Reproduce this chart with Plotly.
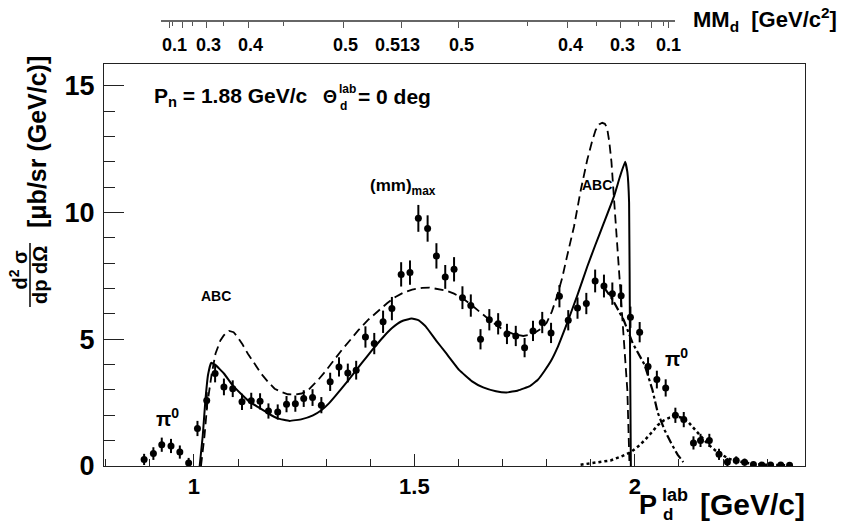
import plotly.graph_objects as go

# ---------------- data ----------------
p_data = [0.887, 0.908, 0.927, 0.948, 0.968, 0.988, 1.008, 1.029, 1.048, 1.068, 1.088, 1.109,
          1.130, 1.150, 1.169, 1.190, 1.210, 1.230, 1.249, 1.269, 1.289, 1.309, 1.329, 1.349,
          1.368, 1.389, 1.409, 1.429, 1.449, 1.470, 1.490, 1.509, 1.530, 1.550, 1.570, 1.590,
          1.609, 1.628, 1.650, 1.670, 1.690, 1.710, 1.730, 1.750, 1.769, 1.790, 1.810, 1.829,
          1.849, 1.870, 1.890, 1.910, 1.930, 1.949, 1.969, 1.990, 2.011, 2.030, 2.050, 2.070,
          2.092, 2.111, 2.133, 2.149, 2.169, 2.191, 2.210, 2.230, 2.249, 2.269, 2.288, 2.308,
          2.331, 2.351]
xs_data = [0.26, 0.49, 0.84, 0.79, 0.55, 0.12, 1.48, 2.58, 3.65, 3.12, 3.05, 2.53,
           2.57, 2.55, 2.17, 2.13, 2.44, 2.46, 2.66, 2.70, 2.40, 3.32, 3.91, 3.67,
           3.78, 5.09, 4.83, 5.69, 6.21, 7.56, 7.63, 9.77, 9.37, 8.29, 7.46, 7.76,
           6.64, 6.33, 5.00, 5.77, 5.61, 5.21, 5.13, 4.67, 5.33, 5.66, 5.25, 6.70,
           5.75, 6.23, 6.41, 7.30, 7.10, 6.80, 6.72, 5.87, 5.28, 3.93, 3.41, 3.08,
           2.00, 1.83, 0.91, 1.01, 1.01, 0.46, 0.16, 0.22, 0.15, 0.06, 0.04, 0.04,
           0.04, 0.03]
xs_err = [0.22, 0.25, 0.28, 0.28, 0.26, 0.20, 0.30, 0.33, 0.35, 0.33, 0.33, 0.32,
          0.32, 0.32, 0.30, 0.30, 0.32, 0.32, 0.33, 0.33, 0.32, 0.36, 0.38, 0.37,
          0.37, 0.42, 0.42, 0.44, 0.46, 0.48, 0.48, 0.53, 0.52, 0.50, 0.47, 0.48,
          0.45, 0.44, 0.40, 0.42, 0.42, 0.40, 0.40, 0.38, 0.40, 0.42, 0.40, 0.44,
          0.40, 0.42, 0.42, 0.45, 0.45, 0.44, 0.44, 0.42, 0.40, 0.36, 0.35, 0.34,
          0.30, 0.30, 0.26, 0.26, 0.26, 0.22, 0.16, 0.16, 0.14, 0.10, 0.08, 0.08,
          0.08, 0.06]

solid_x = [1.013, 1.020, 1.026, 1.032, 1.039, 1.048, 1.068, 1.087, 1.106, 1.125, 1.145, 1.168,
           1.190, 1.217, 1.245, 1.270, 1.289, 1.305, 1.320, 1.350, 1.380, 1.404, 1.430, 1.450,
           1.470, 1.494, 1.510, 1.526, 1.549, 1.572, 1.602, 1.630, 1.656, 1.685, 1.709, 1.735,
           1.762, 1.780, 1.795, 1.810, 1.824, 1.846, 1.870, 1.892, 1.910, 1.930, 1.953, 1.966,
           1.978, 1.983, 1.987, 1.989, 1.991]
solid_y = [0.0, 1.2, 2.6, 3.6, 4.07, 4.0, 3.65, 3.2, 2.86, 2.55, 2.33, 2.08,
           1.88, 1.78, 1.85, 2.00, 2.20, 2.45, 2.75, 3.38, 4.05, 4.57, 5.10, 5.45,
           5.70, 5.82, 5.75, 5.50, 4.96, 4.45, 3.78, 3.35, 3.10, 2.95, 2.90, 2.98,
           3.15, 3.40, 3.75, 4.15, 4.65, 5.62, 6.75, 7.86, 8.70, 9.60, 10.65, 11.40,
           12.0, 11.6, 10.4, 5.0, 0.0]

dash_x = [1.016, 1.024, 1.030, 1.040, 1.049, 1.060, 1.068, 1.080, 1.090, 1.099, 1.110, 1.122,
          1.137, 1.152, 1.168, 1.183, 1.198, 1.213, 1.230, 1.244, 1.257, 1.267, 1.282, 1.297,
          1.315, 1.335, 1.355, 1.373, 1.396, 1.419, 1.438, 1.457, 1.475, 1.495, 1.518, 1.534,
          1.550, 1.572, 1.590, 1.610, 1.633, 1.656, 1.678, 1.701, 1.725, 1.747, 1.762, 1.775,
          1.790, 1.800, 1.812, 1.823, 1.835, 1.846, 1.862, 1.877, 1.892, 1.903, 1.911, 1.919,
          1.926, 1.932, 1.937, 1.942, 1.947, 1.953, 1.961, 1.968, 1.976, 1.983, 1.988]
dash_y = [0.0, 1.2, 2.4, 3.6, 4.44, 4.95, 5.16, 5.33, 5.28, 5.09, 4.80, 4.44,
          4.05, 3.65, 3.32, 3.05, 2.92, 2.83, 2.82, 2.86, 2.96, 3.12, 3.40, 3.71,
          4.12, 4.57, 4.98, 5.36, 5.78, 6.15, 6.42, 6.67, 6.84, 6.96, 7.03, 7.04,
          7.00, 6.92, 6.80, 6.61, 6.30, 5.97, 5.66, 5.38, 5.20, 5.13, 5.18, 5.28,
          5.45, 5.65, 6.10, 6.67, 7.40, 8.25, 9.44, 10.85, 12.07, 12.80, 13.25, 13.48,
          13.54, 13.50, 13.35, 12.80, 12.0, 10.49, 8.52, 6.67, 4.96, 3.0, 0.0]

dashdot_x = [1.930, 1.950, 1.975, 1.995, 2.022, 2.040, 2.052, 2.068, 2.083, 2.097, 2.110]
dashdot_y = [7.05, 6.55, 5.75, 4.85, 4.00, 3.00, 2.10, 1.40, 0.88, 0.45, 0.15]

dot_x = [1.877, 1.910, 1.945, 1.970, 1.991, 2.008, 2.022, 2.037, 2.052, 2.066, 2.079, 2.094,
         2.108, 2.121, 2.136, 2.151, 2.166, 2.182, 2.197, 2.212, 2.231, 2.251, 2.270, 2.289,
         2.320, 2.357]
dot_y = [0.05, 0.12, 0.22, 0.38, 0.55, 0.78, 1.01, 1.30, 1.61, 1.80, 1.91, 1.96,
         1.90, 1.74, 1.45, 1.14, 0.86, 0.62, 0.44, 0.29, 0.19, 0.12, 0.08, 0.05,
         0.03, 0.02]

# top (missing-mass) axis: tick positions expressed in P_d units
mm_major = [0.9458, 0.9751, 1.0307, 1.1263, 1.3453, 1.4762, 1.6069, 1.8570, 1.9787, 2.0499, 2.0883]
mm_minor = [0.9540, 0.9998, 1.0707, 1.2064, 1.7654, 1.9240, 2.0188, 2.0760]
mm_label_pos = [0.9579, 1.0357, 1.1320, 1.3487, 1.4689, 1.6142, 1.8636, 1.9838, 2.0883]
mm_labels = ["0.1", "0.3", "0.4", "0.5", "0.513", "0.5", "0.4", "0.3", "0.1"]

x_ticks = [1.0, 1.5, 2.0]
x_ticktext = ["1", "1.5", "2"]
y_ticks = [0, 5, 10, 15]

# ---------------- figure ----------------
W, H = 849, 526
ML, MR, MT, MB = 104, 44, 21, 60
PW, PH = W - ML - MR, H - MT - MB


def px(xp):
    return (xp - ML) / PW


def py(yp):
    return (H - MB - yp) / PH


FB = "Liberation Sans, Arial, Helvetica, sans-serif"
BOLD = "bold"

fig = go.Figure()

fig.add_trace(go.Scatter(x=dot_x, y=dot_y, mode="lines",
                         line=dict(color="black", width=2.5, dash="dot"), hoverinfo="skip"))
fig.add_trace(go.Scatter(x=dashdot_x, y=dashdot_y, mode="lines",
                         line=dict(color="black", width=2.2, dash="dashdot"), hoverinfo="skip"))
fig.add_trace(go.Scatter(x=dash_x, y=dash_y, mode="lines",
                         line=dict(color="black", width=1.8, dash="9px,5px"), hoverinfo="skip"))
fig.add_trace(go.Scatter(x=solid_x, y=solid_y, mode="lines", line_shape="spline",
                         line=dict(color="black", width=2, smoothing=0.3), hoverinfo="skip"))
fig.add_trace(go.Scatter(x=p_data, y=xs_data, mode="markers",
                         marker=dict(color="black", size=7, symbol="circle"),
                         error_y=dict(type="data", array=xs_err, visible=True,
                                      color="black", thickness=2, width=0)))

# invisible trace that makes the top axis appear
fig.add_trace(go.Scatter(x=[mm_major[0]], y=[0], xaxis="x2", yaxis="y",
                         mode="markers", marker=dict(opacity=0), hoverinfo="skip"))

ytop = py(64)

fig.update_layout(
    width=W, height=H, margin=dict(l=ML, r=MR, t=MT, b=MB),
    paper_bgcolor="white", plot_bgcolor="rgba(0,0,0,0)", showlegend=False,
    font=dict(family=FB, color="black"),
    xaxis=dict(range=[0.796, 2.386], domain=[0, 1], tickvals=x_ticks, ticktext=x_ticktext,
               ticks="inside", ticklen=12, tickwidth=1, tickcolor="#222",
               minor=dict(dtick=0.1, tick0=0, ticks="inside", ticklen=7, tickcolor="#222"),
               showline=True, linecolor="#222", linewidth=1.3, mirror=True,
               showgrid=False, zeroline=False,
               tickfont=dict(family=FB, size=22, color="black", weight=BOLD)),
    yaxis=dict(range=[0, 15.86], domain=[0, ytop], tickvals=y_ticks,
               ticks="inside", ticklen=20, tickwidth=1, tickcolor="#222",
               minor=dict(dtick=1, tick0=0, ticks="inside", ticklen=11, tickcolor="#222"),
               showline=True, linecolor="#222", linewidth=1.3, mirror=True,
               showgrid=False, zeroline=False,
               tickfont=dict(family=FB, size=27, color="black", weight=BOLD),
               ticklabelstandoff=3),
    xaxis2=dict(range=[0.9261, 2.1021], domain=[px(160.7), px(674.6)],
                anchor="free", position=1.0, side="bottom",
                tickvals=mm_major, showticklabels=False,
                ticks="outside", ticklen=6, tickwidth=1, tickcolor="#555",
                minor=dict(tickvals=mm_minor, ticks="outside", ticklen=4, tickcolor="#555"),
                showline=True, linecolor="#666", linewidth=1.5,
                showgrid=False, zeroline=False),
)

ann = []
# top axis labels
for pos, lab in zip(mm_label_pos, mm_labels):
    ann.append(dict(x=pos, y=py(45), xref="x2", yref="paper", text=lab, showarrow=False,
                    xanchor="center", yanchor="middle", font=dict(size=18)))
ann.append(dict(x=px(691), y=py(19), xref="paper", yref="paper",
                text="MM<sub>d</sub>  [GeV/c<sup>2</sup>]", showarrow=False,
                xanchor="left", yanchor="middle", font=dict(size=22)))

# plot text
ann.append(dict(x=px(152), y=py(97), xref="paper", yref="paper",
                text="P<sub>n</sub> = 1.88 GeV/c", showarrow=False,
                xanchor="left", yanchor="middle", font=dict(size=21)))
ann.append(dict(x=px(321), y=py(97), xref="paper", yref="paper",
                text="\u0398", showarrow=False,
                xanchor="left", yanchor="middle", font=dict(size=18)))
ann.append(dict(x=px(337), y=py(89), xref="paper", yref="paper",
                text="lab", showarrow=False,
                xanchor="left", yanchor="middle", font=dict(size=12)))
ann.append(dict(x=px(338), y=py(106), xref="paper", yref="paper",
                text="d", showarrow=False,
                xanchor="left", yanchor="middle", font=dict(size=12)))
ann.append(dict(x=px(356), y=py(97), xref="paper", yref="paper",
                text="= 0 deg", showarrow=False,
                xanchor="left", yanchor="middle", font=dict(size=21)))

ann.append(dict(x=0.94, y=1.93, text="\u03c0<sup>0</sup>", showarrow=False,
                font=dict(size=20)))
ann.append(dict(x=2.095, y=4.29, text="\u03c0<sup>0</sup>", showarrow=False,
                font=dict(size=20)))
ann.append(dict(x=1.050, y=6.69, text="ABC", showarrow=False,
                font=dict(size=14)))
ann.append(dict(x=1.914, y=11.1, text="ABC", showarrow=False,
                font=dict(size=14)))
ann.append(dict(x=1.475, y=11.0, text="(mm)<sub>max</sub>", showarrow=False,
                font=dict(size=17)))

# x-axis title pieces
ann.append(dict(x=px(659), y=py(505), xref="paper", yref="paper", text="P", showarrow=False,
                xanchor="right", yanchor="middle", font=dict(size=27)))
ann.append(dict(x=px(660), y=py(495), xref="paper", yref="paper", text="lab", showarrow=False,
                xanchor="left", yanchor="middle", font=dict(size=18)))
ann.append(dict(x=px(661), y=py(514), xref="paper", yref="paper", text="d", showarrow=False,
                xanchor="left", yanchor="middle", font=dict(size=17)))
ann.append(dict(x=px(807), y=py(505), xref="paper", yref="paper", text="[GeV/c]",
                showarrow=False, xanchor="right", yanchor="middle",
                font=dict(size=30)))

# y-axis title pieces
ann.append(dict(x=px(36.5), y=py(142.5), xref="paper", yref="paper",
                text="[\u03bcb/sr (GeV/c)]", textangle=-90, showarrow=False,
                xanchor="center", yanchor="middle", font=dict(size=25)))
ann.append(dict(x=px(17.5), y=py(270), xref="paper", yref="paper",
                text="d<sup>2</sup> \u03c3", textangle=-90, showarrow=False,
                xanchor="center", yanchor="middle", font=dict(size=20)))
ann.append(dict(x=px(40), y=py(275), xref="paper", yref="paper",
                text="dp d\u03a9", textangle=-90, showarrow=False,
                xanchor="center", yanchor="middle", font=dict(size=20)))

for a in ann:
    a["font"]["color"] = "black"
    a["font"]["family"] = FB
    a["font"]["weight"] = BOLD

fig.update_layout(annotations=ann)
fig.add_shape(type="line", xref="paper", yref="paper",
              x0=px(30), x1=px(30), y0=py(243), y1=py(307),
              line=dict(color="black", width=1.5))

fig.write_html("out.html")
